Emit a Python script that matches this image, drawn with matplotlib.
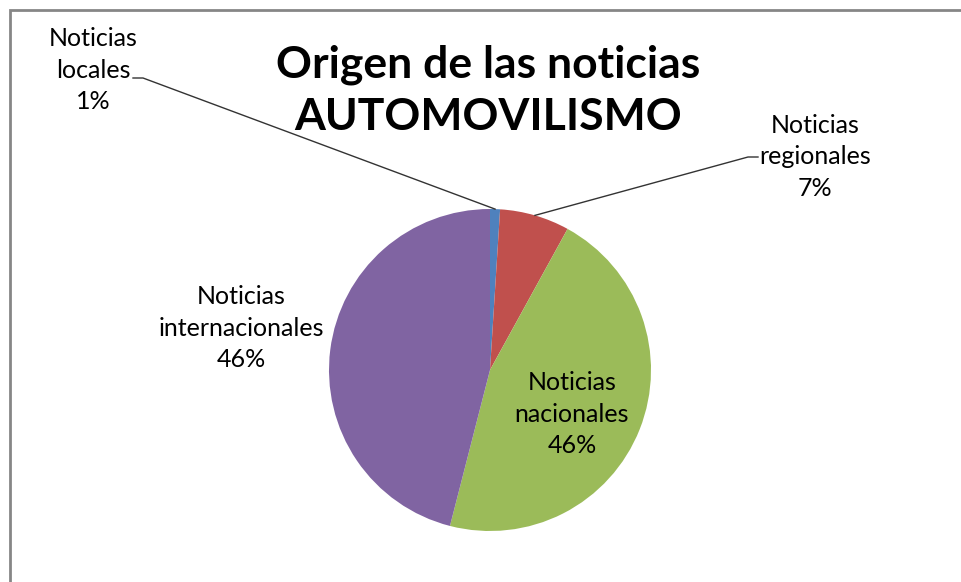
import matplotlib.pyplot as plt
from matplotlib.patches import Rectangle
import numpy as np

# data
categorias = ['Noticias locales', 'Noticias regionales', 'Noticias nacionales', 'Noticias internacionales']
porcentajes = [1, 7, 46, 46]
colores = ['#4F81BD', '#C0504D', '#9BBB59', '#8064A2']

plt.rcParams['font.family'] = ['Lato', 'DejaVu Sans']

W, H = 961, 582
fig = plt.figure(figsize=(W / 100, H / 100), dpi=100)
ax = fig.add_axes([0, 0, 1, 1])

# chart border (gray frame, cut off on right / bottom)
fig.patches.append(Rectangle((9.5 / W, -0.1), 1.2, (H - 10) / H + 0.1,
                             transform=fig.transFigure, fill=False,
                             edgecolor='#868686', linewidth=2))

cx, cy, r = 490, H - 370, 161
wedges, _ = ax.pie(porcentajes, colors=colores, startangle=90, counterclock=False,
                   center=(cx, cy), radius=r, frame=True,
                   wedgeprops=dict(linewidth=0))
ax.set_xlim(0, W)
ax.set_ylim(0, H)
ax.set_aspect('equal')
ax.axis('off')

ax.text(488, H - 91, 'Origen de las noticias\nAUTOMOVILISMO', ha='center', va='center',
        fontsize=32, fontweight='bold', linespacing=1.35)

def etiqueta(i, x, y):
    nombre = categorias[i].split(' ')
    txt = '%s\n%s\n%d%%' % (nombre[0], nombre[1], porcentajes[i])
    ax.text(x, H - y, txt, ha='center', va='center', fontsize=18, linespacing=1.45)

def angulo_medio(i):
    w = wedges[i]
    return np.deg2rad((w.theta1 + w.theta2) / 2)

etiqueta(0, 93, 70)
etiqueta(1, 815, 157)
etiqueta(2, 572, 414)
etiqueta(3, 241, 328)

# leader lines
for i, pts in [(0, [(133, 78), (143, 78)]), (1, [(758, 157), (748, 157)])]:
    a = angulo_medio(i)
    ex, ey = cx + r * np.cos(a), cy + r * np.sin(a)
    xs = [p[0] for p in pts] + [ex]
    ys = [H - p[1] for p in pts] + [ey]
    ax.plot(xs, ys, color='#333333', linewidth=1)

fig.savefig('out.png', dpi=100, facecolor='white')
